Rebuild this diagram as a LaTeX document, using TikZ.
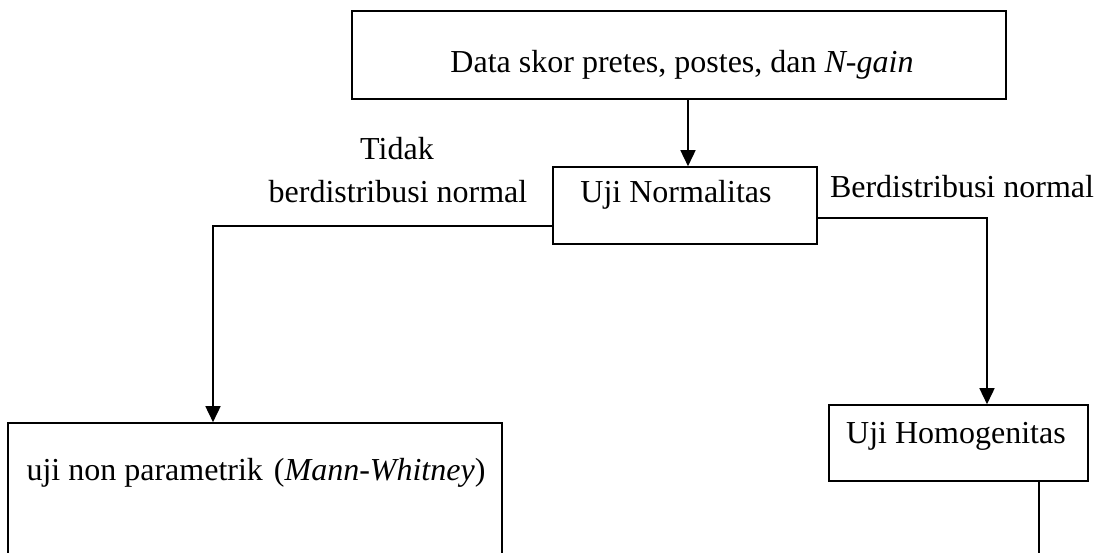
\documentclass[tikz,border=0pt]{standalone}
\usepackage{fontspec}
\setmainfont{Liberation Serif}
\usetikzlibrary{arrows.meta}
\begin{document}
\begin{tikzpicture}[x=1pt,y=-1pt,
  box/.style={draw, line width=1.6pt, inner sep=0pt},
  txt/.style={font=\fontsize{32}{38}\selectfont, inner sep=0pt, anchor=base},
  arr/.style={line width=1.6pt, -{Triangle[width=15pt,length=16pt]}},
  conn/.style={line width=1.6pt}]
\clip (0,0) rectangle (1099,553);
% boxes
\node[box, minimum width=654pt, minimum height=88pt] (top) at (679,55) {};
\node[box, minimum width=264pt, minimum height=77pt] (norm) at (685,205.5) {};
\node[box, minimum width=494pt, minimum height=180pt] (mw) at (255,513) {};
\node[box, minimum width=259pt, minimum height=76pt] (hom) at (958.5,443) {};
% texts
\node[txt] (toptxt) at (682,73) {Data skor pretes, postes, dan \textit{N-gain}};
\node[txt] (normtxt) at (676,203) {Uji Normalitas};
\node[txt] (tidak1) at (397,160) {Tidak};
\node[txt] (tidak2) at (398,203) {berdistribusi normal};
\node[txt] (ya) at (962,198) {Berdistribusi normal};
\node[txt] (mwtxt) at (256,480) {uji non parametrik\hspace{3pt} (\textit{Mann-Whitney})};
\node[txt] (homtxt) at (956,443) {Uji Homogenitas};
% connectors
\coordinate (na) at ([xshift=3pt]norm.north);
\coordinate (endc) at (1039,580);
\draw[arr] (top.south -| na) -- (na);
\draw[arr] ([yshift=-20.5pt]norm.west) -| ([xshift=-42pt]mw.north);
\draw[arr] ([yshift=-12.5pt]norm.east) -| ([xshift=28.5pt]hom.north);
\draw[conn] ([xshift=80.5pt]hom.south) -- (endc);
\end{tikzpicture}
\end{document}
